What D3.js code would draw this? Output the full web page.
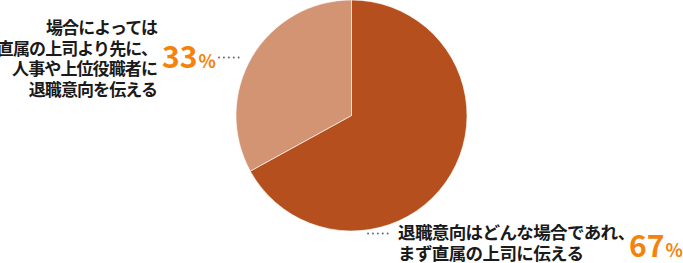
<!DOCTYPE html>
<html>
<head>
<meta charset="utf-8">
<script src="https://cdn.jsdelivr.net/npm/d3@7"></script>
<style>
  body { margin: 0; background: #fff; }
  svg text { font-family: "Noto Sans CJK JP", "Noto Sans", sans-serif; font-weight: 700; }
</style>
</head>
<body>
<div id="chart"></div>
<script>
const categories = ['退職意向はどんな場合であれ、まず直属の上司に伝える', '場合によっては直属の上司より先に、人事や上位役職者に退職意向を伝える'];
const values = [67, 33];
const colors = ['#B5501E', '#D39474'];
const labelLines = [
  ['退職意向はどんな場合であれ、', 'まず直属の上司に伝える'],
  ['場合によっては', '直属の上司より先に、', '人事や上位役職者に', '退職意向を伝える']
];

const width = 683, height = 263;
const cx = 351.5, cy = 115.5, r = 115.5;

const svg = d3.select('#chart').append('svg')
    .attr('width', width).attr('height', height);

const pie = d3.pie().sort(null).value(d => d);
const arc = d3.arc().innerRadius(0).outerRadius(r);

svg.append('g')
    .attr('transform', 'translate(' + cx + ',' + cy + ')')
    .selectAll('path')
    .data(pie(values))
    .enter()
    .append('path')
    .attr('d', arc)
    .attr('fill', (d, i) => colors[i])
    .attr('stroke', '#fff')
    .attr('stroke-width', 0.6);

// dotted leaders
function dots(x1, x2, y) {
    svg.append('line')
        .attr('x1', x1).attr('x2', x2).attr('y1', y).attr('y2', y)
        .attr('stroke', '#5E6478')
        .attr('stroke-width', 1.8)
        .attr('stroke-linecap', 'round')
        .attr('stroke-dasharray', '0.1,4.8');
}

// left label (33%)
svg.selectAll('text.l')
    .data(labelLines[1])
    .enter()
    .append('text')
    .attr('class', 'l')
    .attr('x', 157)
    .attr('y', (d, i) => 34 + i * 20.7)
    .attr('text-anchor', 'end')
    .attr('font-size', 17)
    .attr('letter-spacing', -0.9)
    .attr('fill', '#1a1a1a')
    .text(d => d);

const p1 = svg.append('text').attr('x', 162).attr('y', 67.5).attr('fill', '#F5820A');
p1.append('tspan').attr('font-size', 30).text(values[1]);
p1.append('tspan').attr('font-size', 18).attr('dx', 1).text('%');
dots(219, 243, 57.5);

// right label (67%)
svg.selectAll('text.r')
    .data(labelLines[0])
    .enter()
    .append('text')
    .attr('class', 'r')
    .attr('x', 398)
    .attr('y', (d, i) => 239 + i * 20.7)
    .attr('font-size', 17.5)
    .attr('letter-spacing', -0.6)
    .attr('fill', '#1a1a1a')
    .text(d => d);

const p2 = svg.append('text').attr('x', 629).attr('y', 257).attr('fill', '#F5820A');
p2.append('tspan').attr('font-size', 30).text(values[0]);
p2.append('tspan').attr('font-size', 18).attr('dx', 1).text('%');
dots(368, 392, 233.5);
</script>
</body>
</html>
